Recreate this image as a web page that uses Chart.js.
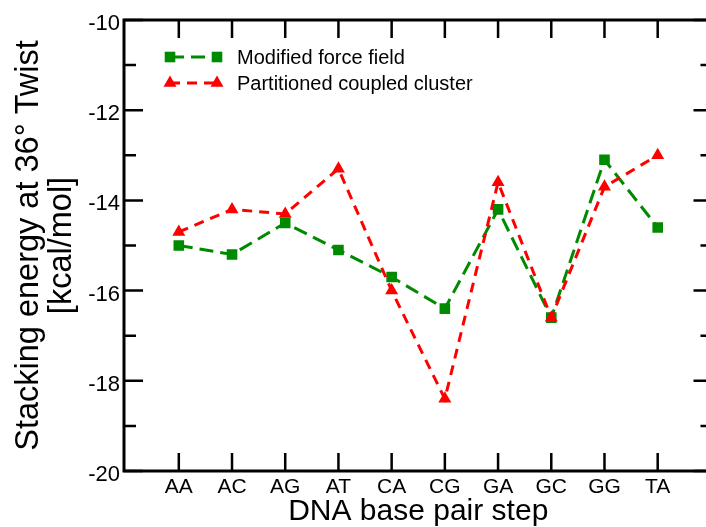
<!DOCTYPE html>
<html>
<head>
<meta charset="utf-8">
<script src="https://cdn.jsdelivr.net/npm/chart.js@4/dist/chart.umd.min.js"></script>
<style>
  html, body { margin: 0; padding: 0; background: #ffffff; overflow: hidden; }
  #wrap { width: 706px; height: 527px; overflow: hidden; }
  canvas { display: block; }
</style>
</head>
<body>
<div id="wrap"><canvas id="c" width="720" height="527"></canvas></div>
<script>
const categories = ['AA', 'AC', 'AG', 'AT', 'CA', 'CG', 'GA', 'GC', 'GG', 'TA'];
const modifiedForceField = [-15.0, -15.2, -14.5, -15.1, -15.7, -16.4, -14.2, -16.6, -13.1, -14.6];
const partitionedCoupledCluster = [-14.7, -14.2, -14.3, -13.3, -16.0, -18.4, -13.6, -16.6, -13.7, -13.0];
const yMajorTicks = [-20, -18, -16, -14, -12, -10];
const yMinorTicks = [-19, -17, -15, -13, -11];
const seriesNames = ['Modified force field', 'Partitioned coupled cluster'];

const GREEN = '#008a00';
const RED = '#ff0000';
const FONT = "'Liberation Sans', Arial, Helvetica, sans-serif";

function toPoints(arr) { return arr.map((v, i) => ({ x: i, y: v })); }

const frameAndTicks = {
  id: 'frameAndTicks',
  afterDraw(chart) {
    const ctx = chart.ctx;
    const a = chart.chartArea;
    const xs = chart.scales.x, ys = chart.scales.y;
    ctx.save();
    ctx.strokeStyle = '#000';
    ctx.lineCap = 'butt';
    ctx.lineWidth = 2.5;
    ctx.beginPath();
    categories.forEach((c, i) => {
      const px = xs.getPixelForValue(i);
      ctx.moveTo(px, a.bottom); ctx.lineTo(px, a.bottom - 18);
      ctx.moveTo(px, a.top); ctx.lineTo(px, a.top + 18);
    });
    yMajorTicks.forEach(v => {
      const py = ys.getPixelForValue(v);
      ctx.moveTo(a.left, py); ctx.lineTo(a.left + 19, py);
      ctx.moveTo(a.right, py); ctx.lineTo(a.right - 19, py);
    });
    yMinorTicks.forEach(v => {
      const py = ys.getPixelForValue(v);
      ctx.moveTo(a.left, py); ctx.lineTo(a.left + 12, py);
      ctx.moveTo(a.right, py); ctx.lineTo(a.right - 12, py);
    });
    ctx.stroke();
    ctx.lineWidth = 3;
    ctx.strokeRect(a.left, a.top, a.right - a.left, a.bottom - a.top);

    // legend
    const rows = [57, 83];
    chart.data.datasets.forEach((ds, k) => {
      const y = rows[k];
      const x1 = 170, x2 = 217;
      ctx.strokeStyle = ds.borderColor;
      ctx.lineWidth = 3;
      ctx.setLineDash(ds.borderDash);
      ctx.beginPath(); ctx.moveTo(x1, y); ctx.lineTo(x2, y); ctx.stroke();
      ctx.setLineDash([]);
      ctx.fillStyle = ds.borderColor;
      [x1, x2].forEach(x => {
        ctx.beginPath();
        if (ds.pointStyle === 'rect') {
          const s = ds.pointRadius * Math.SQRT1_2;
          ctx.rect(x - s, y - s, 2 * s, 2 * s);
        } else {
          const r = ds.pointRadius;
          ctx.moveTo(x, y - r);
          ctx.lineTo(x + r * Math.sin(2 * Math.PI / 3), y + r * 0.5);
          ctx.lineTo(x - r * Math.sin(2 * Math.PI / 3), y + r * 0.5);
          ctx.closePath();
        }
        ctx.fill();
      });
      ctx.fillStyle = '#000';
      ctx.font = '20px ' + FONT;
      ctx.textBaseline = 'middle';
      ctx.textAlign = 'left';
      ctx.fillText(ds.label, 237, y + 1);
    });
    ctx.restore();
  }
};

new Chart(document.getElementById('c'), {
  type: 'line',
  data: {
    datasets: [
      {
        label: seriesNames[0],
        data: toPoints(modifiedForceField),
        borderColor: GREEN,
        backgroundColor: GREEN,
        borderWidth: 3,
        borderDash: [14, 7],
        pointStyle: 'rect',
        pointRadius: 7.5,
        pointBorderWidth: 0,
        pointBackgroundColor: GREEN,
        fill: false,
        tension: 0,
        order: 1
      },
      {
        label: seriesNames[1],
        data: toPoints(partitionedCoupledCluster),
        borderColor: RED,
        backgroundColor: RED,
        borderWidth: 3,
        borderDash: [10, 7],
        pointStyle: 'triangle',
        pointRadius: 7.5,
        pointBorderWidth: 0,
        pointBackgroundColor: RED,
        fill: false,
        tension: 0,
        order: 0
      }
    ]
  },
  options: {
    responsive: false,
    animation: false,
    devicePixelRatio: 1,
    layout: { padding: { top: 20, right: 6, left: 0, bottom: 0 } },
    plugins: { legend: { display: false }, tooltip: { enabled: false } },
    scales: {
      x: {
        type: 'linear',
        min: -1.03,
        max: 10.03,
        grid: { display: false, drawTicks: false },
        border: { display: false },
        afterBuildTicks: s => { s.ticks = categories.map((c, i) => ({ value: i })); },
        afterFit: s => { s.height = 56; },
        ticks: {
          autoSkip: false,
          maxRotation: 0,
          padding: 4,
          color: '#000',
          font: { family: FONT, size: 21 },
          callback: v => categories[v]
        },
        title: {
          display: true,
          text: 'DNA base pair step',
          color: '#000',
          padding: 0,
          font: { family: FONT, size: 30, lineHeight: 1.0 }
        }
      },
      y: {
        min: -20,
        max: -10,
        grid: { display: false, drawTicks: false },
        border: { display: false },
        afterBuildTicks: s => { s.ticks = yMajorTicks.map(v => ({ value: v })); },
        afterFit: s => { s.width = 124; },
        ticks: {
          padding: 4,
          color: '#000',
          font: { family: FONT, size: 22, lineHeight: '8px' },
          callback: v => ['', String(v)]
        },
        title: {
          display: true,
          text: ['Stacking energy at 36° Twist', '[kcal/mol]'],
          color: '#000',
          padding: { top: 12.5, bottom: 0 },
          font: { family: FONT, size: 32.5, lineHeight: 1.02 }
        }
      }
    }
  },
  plugins: [frameAndTicks]
});
</script>
</body>
</html>
